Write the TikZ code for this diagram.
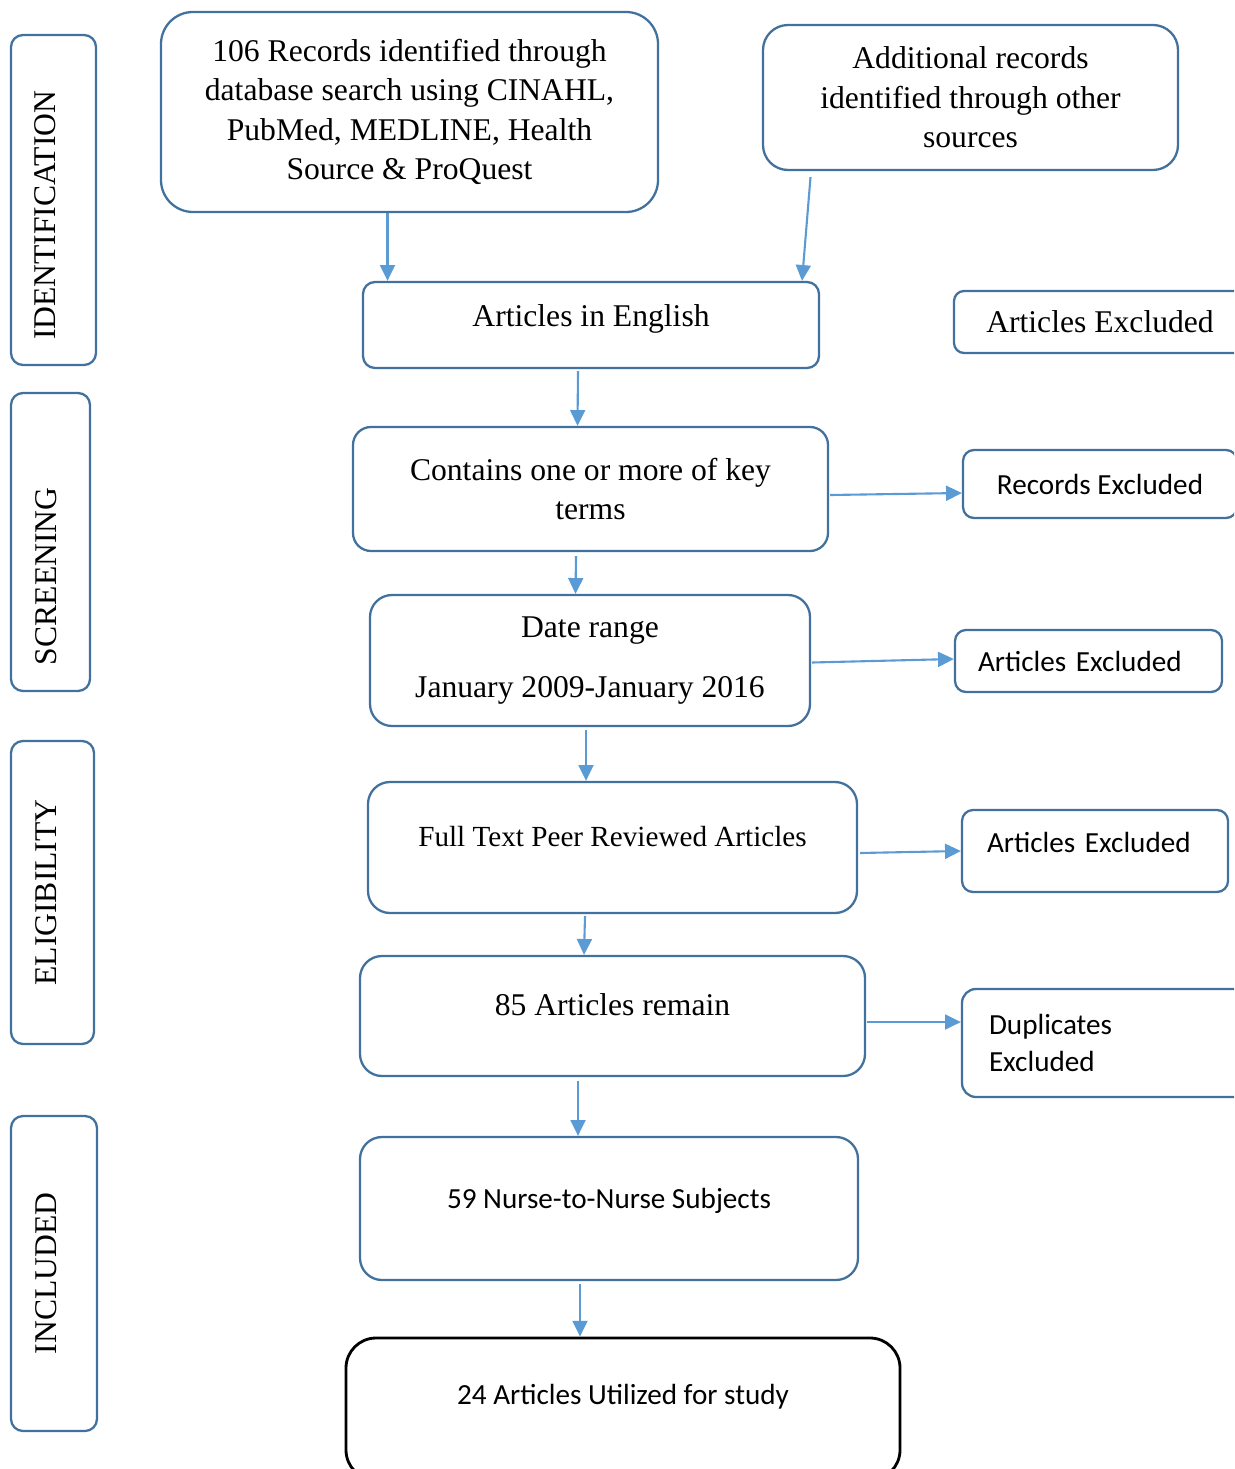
\documentclass[tikz,border=0pt]{standalone}
\usepackage{fontspec}
\setmainfont{Liberation Serif}
\newfontfamily\calibri{Carlito}
\usetikzlibrary{arrows.meta}
\newcommand{\pxl}{0.02cm}
\definecolor{boxblue}{RGB}{65,113,156}
\definecolor{arrowblue}{RGB}{91,155,213}
\newcommand{\serifsize}{\fontsize{18}{22.4}\selectfont}
\newcommand{\smallserif}{\fontsize{16.6}{21}\selectfont}
\newcommand{\sanssize}{\calibri\fontsize{16.6}{21.5}\selectfont}

\begin{document}
\begin{tikzpicture}[x=\pxl, y=-\pxl,
    box/.style={draw=boxblue, line width=1.3pt, rounded corners=#1*\pxl,
        align=center, inner sep=0pt, font=\serifsize},
    box/.default=20,
    phase/.style={box=12, rotate=90},
    exbox/.style={box=#1, font=\sanssize},
    exbox/.default=11,
    arr/.style={draw=arrowblue, line width=1.2pt, -{Triangle[length=9pt,width=8.5pt]}}]
    \path[use as bounding box] (0,0) rectangle (1234,1469);
    \clip (0,0) rectangle (1234,1469);

    % phase labels down the left side
    \node[phase, minimum width=330*\pxl, minimum height=85*\pxl, text width=280*\pxl,
        inner xsep=25*\pxl, align=left, text depth=17*\pxl] (identification) at (53.5,200) {IDENTIFICATION};
    \node[phase, minimum width=298*\pxl, minimum height=79*\pxl, text width=246*\pxl,
        inner xsep=26*\pxl, align=left, text depth=9*\pxl] (screening) at (50.5,542) {SCREENING};
    \node[phase, minimum width=303*\pxl, minimum height=83*\pxl, text depth=13*\pxl] (eligibility) at (52.5,892.5) {ELIGIBILITY};
    \node[phase, minimum width=315*\pxl, minimum height=86*\pxl, text depth=16*\pxl] (included) at (54,1273.5) {INCLUDED};

    % main flow
    \node[box=32, minimum width=497*\pxl, minimum height=200*\pxl] (database) at (409.5,112)
        {106 Records identified through\\database search using CINAHL,\\PubMed, MEDLINE, Health\\Source \& ProQuest};
    \node[box=25, minimum width=415*\pxl, minimum height=145*\pxl] (other) at (970.5,97.5)
        {Additional records\\identified through other\\sources};
    \node[box=12, minimum width=456*\pxl, minimum height=86*\pxl, text depth=19*\pxl] (english) at (591,325) {Articles in English};
    \node[box=18, minimum width=475*\pxl, minimum height=124*\pxl] (keyterms) at (590.5,489)
        {Contains one or more of key\\terms};
    \node[box=22, minimum width=440*\pxl, minimum height=131*\pxl] (daterange) at (590,660.5)
        {Date range\\[12.2pt]January 2009-January 2016};
    \node[box=22, minimum width=489*\pxl, minimum height=131*\pxl, font=\smallserif, text depth=22*\pxl] (fulltext) at (612.5,847.5)
        {Full Text Peer Reviewed Articles};
    \node[box=22, minimum width=505*\pxl, minimum height=120*\pxl, text depth=23*\pxl] (remain) at (612.5,1016) {85 Articles remain};
    \node[box=22, minimum width=498*\pxl, minimum height=143*\pxl, font=\sanssize, text depth=21*\pxl] (subjects) at (609,1208.5)
        {59 Nurse-to-Nurse Subjects};
    \node[box=30, draw=black, line width=1.6pt, minimum width=554*\pxl, minimum height=142*\pxl, font=\sanssize,
        text depth=29*\pxl] (utilized) at (623,1409) {24 Articles Utilized for study};

    % exclusions on the right
    \node[box=10, minimum width=292*\pxl, minimum height=62*\pxl] (artexcl) at (1100,322) {Articles Excluded};
    \node[exbox, minimum width=274*\pxl, minimum height=68*\pxl] (recexcl) at (1100,484) {Records Excluded};
    \node[exbox, minimum width=267*\pxl, minimum height=62*\pxl, text width=221*\pxl, inner xsep=23*\pxl,
        align=left] (dateexcl) at (1088.5,661) {Articles Excluded};
    \node[exbox, minimum width=266*\pxl, minimum height=82*\pxl, text width=216*\pxl, inner xsep=25*\pxl,
        align=left, text depth=17*\pxl] (fullexcl) at (1095,851) {Articles Excluded};
    \node[exbox=14, minimum width=300*\pxl, minimum height=108*\pxl, text width=246*\pxl, inner xsep=27*\pxl,
        align=left] (dupexcl) at (1112,1043) {Duplicates\\Excluded};

    \draw[arr] ([xshift=-22*\pxl]database.south) -- ([xshift=-22*\pxl]database.south |- english.north);
    \draw[arr] ([shift={(-160,6)}]other.south) -- ([xshift=211*\pxl]english.north);
    \draw[arr] ([shift={(-13,2)}]english.south) -- ([xshift=-13*\pxl]keyterms.north);
    \draw[arr] ([shift={(1,6)}]keyterms.east) -- ([shift={(0,9)}]recexcl.west);
    \draw[arr] ([shift={(-14.5,4)}]keyterms.south) -- ([xshift=-14.5*\pxl]daterange.north);
    \draw[arr] ([shift={(1,2)}]daterange.east) -- ([shift={(0,-2)}]dateexcl.west);
    \draw[arr] ([shift={(-4,3)}]daterange.south) -- ([xshift=-26.5*\pxl]fulltext.north);
    \draw[arr] ([shift={(2,5.5)}]fulltext.east) -- (fullexcl.west);
    \draw[arr] ([shift={(-27.5,2)}]fulltext.south) -- ([xshift=-28.5*\pxl]remain.north);
    \draw[arr] ([shift={(1,6)}]remain.east) -- ([shift={(0,-21)}]dupexcl.west);
    \draw[arr] ([shift={(-34.5,4)}]remain.south) -- ([xshift=-31*\pxl]subjects.north);
    \draw[arr] ([shift={(-29,3)}]subjects.south) -- ([xshift=-43*\pxl]utilized.north);
\end{tikzpicture}
\end{document}
